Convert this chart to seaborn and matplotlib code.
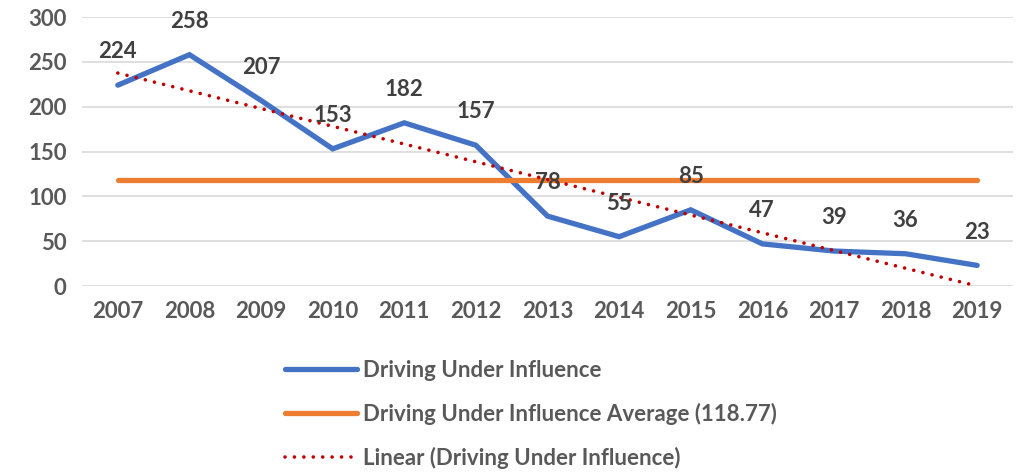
import numpy as np
import pandas as pd
import matplotlib
matplotlib.use('Agg')
import matplotlib.pyplot as plt
import seaborn as sns

years = [2007, 2008, 2009, 2010, 2011, 2012, 2013, 2014, 2015, 2016, 2017, 2018, 2019]
dui = [224, 258, 207, 153, 182, 157, 78, 55, 85, 47, 39, 36, 23]

df = pd.DataFrame({'year': years, 'dui': dui})
avg = df['dui'].mean()
df['avg'] = avg
slope, intercept = np.polyfit(df['year'], df['dui'], 1)
df['trend'] = slope * df['year'] + intercept

sns.set_theme(style="white")
plt.rcParams['font.family'] = ['Lato', 'DejaVu Sans']

fig = plt.figure(figsize=(10.33, 4.73), dpi=100)
ax = fig.add_axes([0.0794, 0.3953, 0.9012, 0.5687])

blue = '#4472C4'
orange = '#ED7D31'
red = '#C00000'

sns.lineplot(data=df, x='year', y='dui', ax=ax, color=blue, lw=3.8,
             solid_capstyle='round', solid_joinstyle='miter',
             label='Driving Under Influence')
sns.lineplot(data=df, x='year', y='avg', ax=ax, color=orange, lw=3.8,
             solid_capstyle='round',
             label='Driving Under Influence Average ({:.2f})'.format(avg))
sns.lineplot(data=df, x='year', y='trend', ax=ax, color=red, lw=2.6,
             linestyle=(0, (0.01, 2.6)), dash_capstyle='round',
             label='Linear (Driving Under Influence)')

for x, y in zip(years, dui):
    ax.annotate(str(y), (x, y), xytext=(0, 24), textcoords='offset points',
                ha='center', va='center', fontsize=16, fontweight='bold',
                color='#404040')

ax.set_xlim(2006.5, 2019.5)
ax.set_ylim(0, 300)
ax.set_xticks(years)
ax.set_xticklabels([str(y) for y in years])
ax.set_yticks(range(0, 301, 50))
ax.tick_params(axis='both', length=0, labelsize=16, labelcolor='#595959', pad=11)
for lab in ax.get_xticklabels() + ax.get_yticklabels():
    lab.set_fontweight('bold')
ax.set_xlabel('')
ax.set_ylabel('')
ax.grid(axis='y', color='#D9D9D9', lw=1.2)
ax.set_axisbelow(True)
for s in ax.spines.values():
    s.set_visible(False)

handles, labels = ax.get_legend_handles_labels()
ax.get_legend().remove()
leg = fig.legend(handles, labels, loc='upper left', bbox_to_anchor=(285 / 1033, 1 - 360 / 473),
                 frameon=False, fontsize=16, handlelength=3.25, handletextpad=0.27,
                 labelspacing=0.98, borderpad=0, borderaxespad=0)
for t in leg.get_texts():
    t.set_fontweight('bold')
    t.set_color('#595959')

fig.savefig('out.png', dpi=100)
